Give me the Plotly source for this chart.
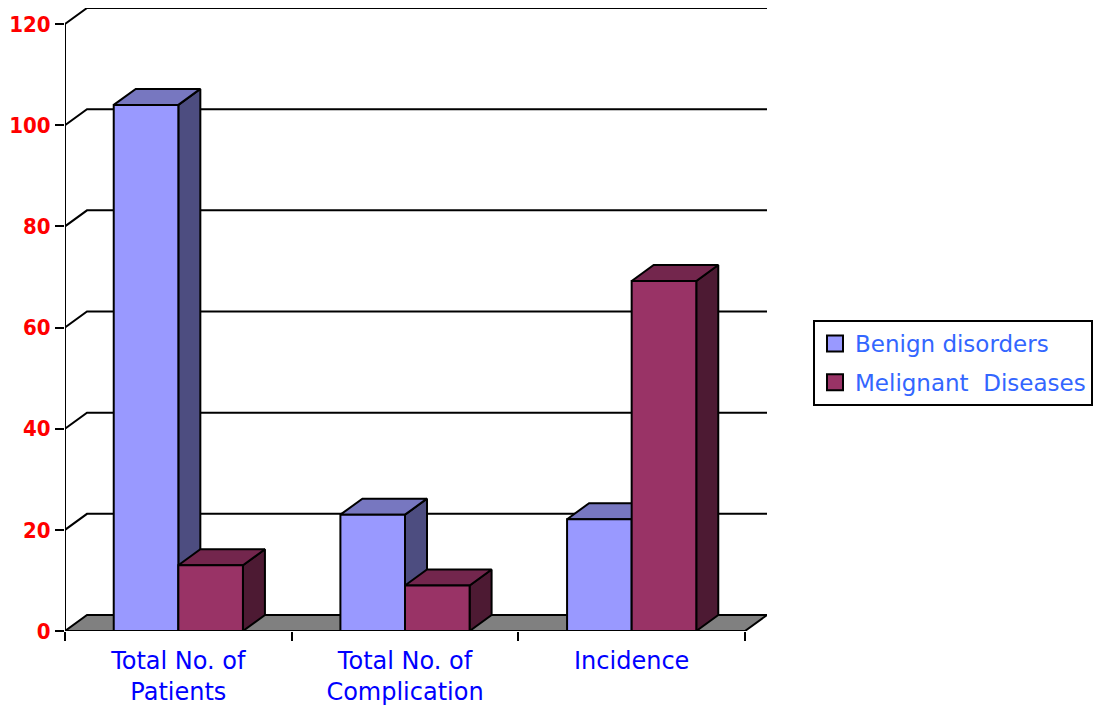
import plotly.graph_objects as go

# ---- data ----
categories = ["Total No. of<br>Patients", "Total No. of<br>Complication", "Incidence"]
series_names = ["Benign disorders", "Melignant\u00a0 Diseases"]
benign = [104, 23, 22.1]
malignant = [13, 9, 69.2]
y_ticks = [0, 20, 40, 60, 80, 100, 120]

# ---- style / geometry ----
W, H = 1098, 713
ml, mr, mt, mb = 65, 331, 8, 82
plot_w = W - ml - mr
plot_h = H - mt - mb
depth_px_x, depth_px_y = 22, 16
ncat = len(categories)
px_per_cat = (plot_w - depth_px_x) / ncat
ymax = 120
px_per_unit = (plot_h - depth_px_y) / ymax
dxu = depth_px_x / px_per_cat
dyu = depth_px_y / px_per_unit
bar_w = 0.285

front_cols = ["#9999FF", "#993366"]
top_cols = ["#7777C0", "#73264D"]
side_cols = ["#4D4D80", "#4D1A33"]
LW = 2

fig = go.Figure()

def poly(xs, ys, fill):
    fig.add_trace(go.Scatter(x=xs + [xs[0]], y=ys + [ys[0]], mode="lines",
                             fill="toself", fillcolor=fill,
                             line=dict(color="black", width=LW),
                             hoverinfo="skip", showlegend=False))

def line(xs, ys):
    fig.add_trace(go.Scatter(x=xs, y=ys, mode="lines",
                             line=dict(color="black", width=LW),
                             hoverinfo="skip", showlegend=False))

# gridlines on side + back wall
for v in y_ticks[1:]:
    line([0, dxu, ncat + dxu], [v, v + dyu, v + dyu])

# floor
poly([0, ncat, ncat + dxu, dxu], [0, 0, dyu, dyu], "#808080")

# front y-axis line
line([0, 0], [0, ymax])

# bars
for i in range(ncat):
    c = i + 0.5
    for s, vals in enumerate([benign, malignant]):
        h = vals[i]
        x0 = c - bar_w + s * bar_w
        x1 = x0 + bar_w
        poly([x1, x1 + dxu, x1 + dxu, x1], [0, dyu, h + dyu, h], side_cols[s])
        poly([x0, x1, x1 + dxu, x0 + dxu], [h, h, h + dyu, h + dyu], top_cols[s])
        poly([x0, x1, x1, x0], [0, 0, h, h], front_cols[s])

# legend entries
for s, name in enumerate(series_names):
    fig.add_trace(go.Scatter(x=[None], y=[None], mode="markers", name=name,
                             legendgroup=str(s),
                             marker=dict(symbol="square", size=16, color=front_cols[s],
                                         line=dict(color="black", width=2))))

font_fam = "DejaVu Sans, sans-serif"
cond_fam = "DejaVu Sans Condensed, DejaVu Sans, sans-serif"

fig.update_layout(
    width=W, height=H,
    margin=dict(l=ml, r=mr, t=mt, b=mb, autoexpand=False),
    paper_bgcolor="white", plot_bgcolor="white",
    font=dict(family=font_fam),
    xaxis=dict(range=[0, ncat + dxu], showgrid=False, zeroline=False, showline=False,
               tickmode="array", tickvals=[i + 0.5 for i in range(ncat)], ticktext=categories,
               ticks="", ticklabelstandoff=13, automargin=False,
               tickfont=dict(family=font_fam, size=24, color="#0000FF"),
               minor=dict(tickmode="array", tickvals=list(range(ncat + 1)), ticks="outside",
                          ticklen=9, tickwidth=2, tickcolor="black"),
               fixedrange=True),
    yaxis=dict(range=[0, ymax + dyu], showgrid=False, zeroline=False, showline=False,
               tickmode="array", tickvals=y_ticks, ticks="outside", ticklen=9,
               tickwidth=2, tickcolor="black", automargin=False,
               tickfont=dict(family=cond_fam, size=22, color="#FF0000", weight="bold"),
               fixedrange=True),
    legend=dict(x=(813 - ml) / plot_w, y=(mt + plot_h - 320) / plot_h,
                xanchor="left", yanchor="top",
                bordercolor="black", borderwidth=2, bgcolor="white",
                font=dict(family=font_fam, size=23, color="#3366FF"),
                tracegroupgap=6, itemclick=False, itemdoubleclick=False),
    showlegend=True,
)

fig.write_html("out.html")
